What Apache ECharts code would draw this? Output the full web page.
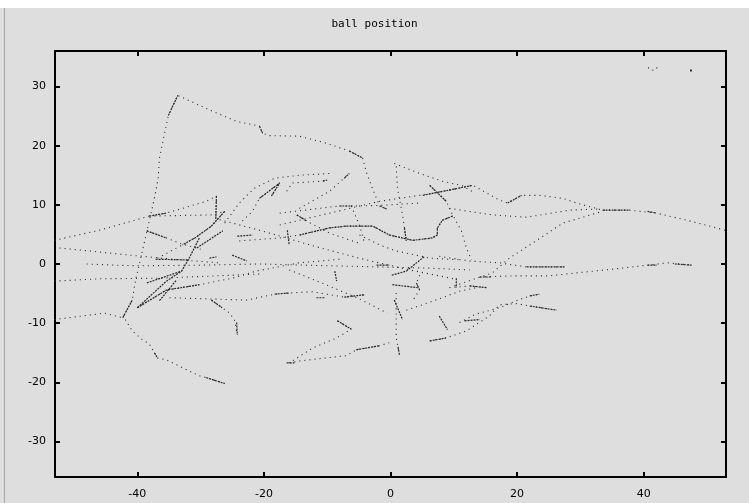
<!DOCTYPE html>
<html>
<head>
<meta charset="utf-8">
<title>ball position</title>
<script src="https://cdn.jsdelivr.net/npm/echarts@6/dist/echarts.min.js"></script>
<style>
    html,body{margin:0;padding:0;background:#dedede;}
    #main{width:749px;height:503px;}
</style>
</head>
<body>
<div id="main"></div>
<script>
// tick labels
var xTicks = [-40,-20,0,20,40];
var yTicks = [-30,-20,-10,0,10,20,30];

// ball tracks (x,y)
var arcTop = [[-40,-1.5],[-39.2,2.2],[-37.4,10.6],[-36.7,14.5],[-36.5,17.9],[-35.1,25.1],[-33.6,28.5],[-32.2,27.8],[-28.1,25.8],[-24.3,24.1],[-20.7,23.3],[-20.2,22.1],[-19.1,21.7],[-14.4,21.6],[-10.1,20.4],[-6.5,19.1],[-4.4,17.9],[-3.8,15.5],[-2.8,12.6],[-1.7,9.8],[-0.6,9.3]];
var leftRise = [[-53.1,4],[-46,5.7],[-38.1,8.1],[-35.4,8.6],[-29.1,10.6],[-27.5,11.5],[-27.6,7.4]];
var leftFlat = [[-38.1,8.1],[-28.1,8.3],[-26.2,8.9]];
var clusterA = [[-26.2,8.9],[-28.3,6.4],[-30.9,4.4],[-32.9,3.2],[-35.2,1.9],[-37.3,0.7]];
var leftLow = [[-53.1,-9.4],[-45.2,-8.3],[-42.3,-9.1],[-40.8,-6.1],[-40.4,-3.5],[-40.1,-1.9]];
var lowArc = [[-41.9,-9.4],[-40.8,-11.3],[-39.2,-12.8],[-38.1,-13.5],[-37.3,-15],[-36.8,-15.9],[-35.4,-16.2],[-32.9,-17.5],[-30.2,-18.9],[-29.1,-19.2],[-26.2,-20.2]];
var hookMid = [[-28.3,-6.1],[-26.6,-7.4],[-25.4,-8.3],[-24.6,-9.6],[-24.3,-9.9],[-24.2,-12]];
var lowRise = [[-40,-7.4],[-35.4,-4.4],[-30.2,-3.5],[-25,-2.4],[-21.2,-1.2],[-14.4,0.2],[-8,0.8]];
var flatMinus5 = [[-34.9,-5.7],[-22.7,-6.1],[-18.3,-5.1],[-16,-4.9],[-12.3,-4.7],[-7.3,-5.6],[-4.1,-5.2]];
var zeroLine = [[-48,0],[-43.3,-0.2],[-39.7,-0.3],[-30.2,-0.2],[-20.7,0],[-9.6,-0.3],[6.2,-0.7],[12.5,-1]];
var leftMid = [[-52.3,2.7],[-47.6,2.2],[-41.2,1.5],[-33.3,0.7],[-27,0.2]];
var leftMinus2 = [[-53.1,-2.9],[-46,-2.5],[-36.5,-2.4],[-20.7,-1.7]];
var diagUp = [[-17.5,6.6],[-9.6,8.6],[-1.7,10.6],[4.6,11.6],[10.9,12.8]];
var topRight = [[0.6,17],[4.6,15.3],[8.2,14],[11.4,13.2],[13.3,12]];
var dropA = [[0.9,16.5],[1.1,12.8],[1.9,8.3],[2.2,6.1],[2.5,3.9]];
var dropB = [[6.2,13.3],[8.8,10.6],[9.8,8.3],[11.2,5.6],[12,2.7],[12.8,0.7]];
var wave = [[-23.9,3.9],[-17.5,4.4],[-14.4,4.9],[-9.6,6.1],[-7,6.4],[-2.8,6.4],[-0.2,4.9],[3.5,4],[6.6,4.4],[7.4,4.9],[7.4,6.1],[8.2,7.4],[9.8,8.1]];
var riseA = [[-16.4,12.3],[-15.5,13.7],[-10.7,14],[-10,14.2]];
var riseB = [[-14.4,9.4],[-9.6,12.3],[-6.5,15.3]];
var flat10 = [[-17.5,8.6],[-8.1,9.8],[-6,9.8],[-1.7,9.9],[4.6,10.3]];
var dropC = [[-6.2,9.8],[-4.9,6.6],[-4.1,3.5]];
var vShape = [[-23.4,7.3],[-21.8,8.9],[-20.7,11.1],[-17.5,13.7],[-18.8,11.5]];
var arcMid = [[-26.2,6.9],[-23.9,10.3],[-21.5,12.8],[-18.3,14.5],[-14.4,15],[-9.6,15.3]];
var clusterC = [[-38.5,5.6],[-35.4,4.4],[-33.3,3.5],[-30,2.5]];
var midSlope = [[-14.8,8.3],[-13.3,7.3],[-9.6,5.2],[-4.9,3.5]];
var midLow = [[-4.9,4.9],[-1.7,3.2],[0.9,2.2],[6.2,1],[10.9,0.7]];
var rightTop = [[9.3,12.5],[13,13.3],[17.2,10.8],[18.5,10.3],[20.7,11.6],[23.5,11.6],[27.2,11.1],[29.4,10.3],[33.5,9.1],[37.8,9.1],[42,8.6],[47.2,7.3],[52.9,5.7]];
var rightUpper = [[9.3,9.4],[16.1,8.3],[21.5,7.9],[28.3,9.1],[33,9.3]];
var rightCurve = [[10.1,-3.7],[16.1,-1.5],[18.8,1],[22.4,3.5],[27.2,6.9],[33.5,8.9]];
var rightZero = [[14.1,-2.2],[19.9,-2],[25.1,-2],[29.4,-1.5],[35.7,-0.8],[40.6,-0.2],[43.8,0.2],[47.7,-0.2]];
var rightHalf = [[7.7,1.3],[12.5,0.5],[17.2,0.2],[21.5,-0.5],[27.5,-0.5]];
var rightM4 = [[9.3,-4],[12.5,-3.7],[15.2,-4]];
var rightM10 = [[10.9,-9.9],[13.4,-8.5],[17.2,-7.4],[19.9,-6.2],[22,-5.4],[23.5,-5.1]];
var rightM7 = [[6.2,-13],[8.8,-12.5],[12,-11.3],[15.6,-8.8],[17.2,-6.9],[19.9,-6.7],[22,-7.1],[26.2,-7.8]];
var centreVert = [[0.9,-4.9],[0.9,-12.5],[1.4,-15.3]];
var lowBack = [[-8.4,-9.6],[-6.2,-11],[-8.5,-12.5],[-12.3,-14.2],[-15.2,-16.2],[-16,-16.7]];
var bottomLine = [[-16,-16.7],[-14.4,-16.4],[-11.2,-16],[-7,-15.5],[-5.4,-14.5],[-1.7,-13.8],[-0.2,-13.3]];
var lowRight = [[2.5,-7.8],[5,-6.9],[8.2,-5.7],[10.9,-4.6],[14,-3.9]];
var crossDown = [[-16,-1],[-10.4,-3.4],[-4.9,-5.9],[-0.5,-8.3]];
var crossCentre = [[-27,7.5],[-20,5.5],[-12,3],[-5,1],[3,-1],[10,-2.5]];
var kinkC = [[4.6,-1.9],[4.1,-3.2],[4.6,-4.4],[3.5,-6.2]];

var dottedTracks = [arcTop,leftRise,leftFlat,clusterA,leftLow,lowArc,hookMid,lowRise,flatMinus5,zeroLine,leftMid,leftMinus2,
    diagUp,topRight,dropA,dropB,wave,riseA,riseB,flat10,dropC,vShape,arcMid,clusterC,midSlope,midLow,
    rightTop,rightUpper,rightCurve,rightZero,rightHalf,rightM4,rightM10,rightM7,centreVert,lowBack,bottomLine,
    lowRight,crossDown,crossCentre,kinkC];

// stretches where the samples lie so close they read as solid strokes
var solidRuns = [
    [[-35.1,25.1],[-33.6,28.5]],
    [[-20.7,23.3],[-20.2,22.1]],
    [[-6.5,19.1],[-4.4,17.9]],
    [[-1.7,9.8],[-0.6,9.3]],
    [[-38.1,8.1],[-35.4,8.6]],
    [[-27.5,11.5],[-27.6,7.4]],
    [[-26.2,8.9],[-28.3,6.4],[-30.9,4.4],[-32.9,3.2]],
    [[-30.2,4.4],[-31.8,1],[-33,-1.2],[-35.4,-2.9],[-40,-7.4]],
    [[-42.3,-9.1],[-40.8,-6.1]],
    [[-37.3,-15],[-36.8,-15.9]],
    [[-29.1,-19.2],[-26.2,-20.2]],
    [[-28.3,-6.1],[-26.6,-7.4]],
    [[-24.3,-9.9],[-24.2,-12]],
    [[-38.5,-3.2],[-33,-1.2]],
    [[-40,-7.4],[-35.4,-4.4],[-30.2,-3.5]],
    [[-36.5,-6.2],[-33.8,-2.7]],
    [[-18.3,-5.1],[-16,-4.9]],
    [[-11.7,-5.7],[-10.4,-5.7]],
    [[-7.3,-5.6],[-4.1,-5.2]],
    [[5.1,11.6],[13,13.3]],
    [[6.2,13.3],[8.8,10.6]],
    [[2.2,6.1],[2.5,3.9]],
    [[-14.4,4.9],[-9.6,6.1],[-7,6.4],[-2.8,6.4],[-0.2,4.9],[3.5,4],[6.6,4.4],[7.4,4.9],[7.4,6.1],[8.2,7.4],[9.8,8.1]],
    [[-10.7,14],[-10,14.2]],
    [[-7.3,14.5],[-6.5,15.3]],
    [[-8.1,9.8],[-6,9.8]],
    [[-20.7,11.1],[-17.5,13.7],[-18.8,11.5]],
    [[-38.5,5.6],[-35.4,4.4]],
    [[-25,1.5],[-22.7,0.5]],
    [[-28.6,1],[-27.5,1.2]],
    [[-16.3,5.7],[-16,3.2]],
    [[-14.8,8.3],[-13.3,7.3]],
    [[18.5,10.3],[20.7,11.6]],
    [[33.5,9.1],[37.8,9.1]],
    [[40.6,8.9],[42,8.6]],
    [[14.1,-2.2],[16,-2.2]],
    [[40.6,-0.2],[42.1,-0.2]],
    [[44.9,0],[47.7,-0.2]],
    [[21.5,-0.5],[27.5,-0.5]],
    [[12.5,-3.7],[15.2,-4]],
    [[10.4,-2.4],[10.4,-4]],
    [[22,-5.4],[23.5,-5.1]],
    [[22,-7.1],[26.2,-7.8]],
    [[6.2,-13],[8.8,-12.5]],
    [[-8.8,-1.2],[-8.5,-2.9]],
    [[0.2,-1.9],[2.5,-1.2],[5.4,1.3]],
    [[4.1,-3.2],[4.6,-4.4]],
    [[0.3,-3.5],[4.3,-4]],
    [[0.6,-6.1],[1.9,-9.4]],
    [[7.7,-8.8],[9,-11.1]],
    [[1.2,-14],[1.4,-15.3]],
    [[-5.4,-14.5],[-1.7,-13.8]],
    [[-8.4,-9.6],[-6.2,-11]],
    [[-16.4,-16.7],[-15.2,-16.7]],
    [[-2.2,-0.2],[-0.2,-0.2]],
    [[11.7,-9.6],[14.1,-9.4]],
    [[-37.1,0.8],[-31.8,0.7]],
    [[-30.6,2.7],[-26.5,5.6]],
    [[-24.2,4.7],[-21.8,4.9]]
];

var seriesName = "'-'";

function buildSeries() {
    var list = [];
    for(var i=0;i<dottedTracks.length;i++){
        list.push({
            name: seriesName,
            type: 'line',
            data: dottedTracks[i],
            symbol: 'none',
            silent: true,
            color: '#333',
            lineStyle: {width: 1.1, color: '#333', type: [1.1, 4]}
        });
    }
    for(var j=0;j<solidRuns.length;j++){
        list.push({
            name: seriesName,
            type: 'line',
            data: solidRuns[j],
            symbol: 'none',
            silent: true,
            color: '#333',
            lineStyle: {width: 1.2, color: '#2a2a2a', type: [2, 1]}
        });
    }
    return list;
}

var frame = {show: true, onZero: false, lineStyle: {color: '#000', width: 2}};
var labelFont = {color: '#000', fontSize: 11, fontFamily: 'DejaVu Sans'};

var myChart = echarts.init(document.getElementById('main'), null, {renderer: 'canvas'});
var option = {
    backgroundColor: '#dedede',
    animation: false,
    title: {
        text: 'ball position',
        left: 'center',
        top: 14,
        textStyle: {color: '#000', fontSize: 11, fontWeight: 'normal', fontFamily: 'DejaVu Sans Mono'}
    },
    legend: {
        data: [{name: seriesName, icon: 'rect'}],
        right: 52,
        top: 62,
        align: 'right',
        itemWidth: 2,
        itemHeight: 2,
        selectedMode: false,
        textStyle: {color: '#000', fontSize: 7, fontFamily: 'DejaVu Sans Mono', padding: [0, 26, 0, 0]}
    },
    grid: {left: 55, right: 23, top: 51, bottom: 26},
    xAxis: [{
        type: 'value', min: -53, max: 53, position: 'bottom',
        axisLine: frame,
        axisTick: {inside: true, length: 5, customValues: xTicks, lineStyle: {color: '#000', width: 2}},
        axisLabel: Object.assign({customValues: xTicks, margin: 12}, labelFont),
        splitLine: {show: false}
    },{
        type: 'value', min: -53, max: 53, position: 'top',
        axisLine: frame,
        axisTick: {inside: true, length: 5, customValues: xTicks, lineStyle: {color: '#000', width: 2}},
        axisLabel: {show: false},
        splitLine: {show: false}
    }],
    yAxis: [{
        type: 'value', min: -36, max: 36, position: 'left',
        axisLine: frame,
        axisTick: {inside: true, length: 5, customValues: yTicks, lineStyle: {color: '#000', width: 2}},
        axisLabel: Object.assign({customValues: yTicks, margin: 9}, labelFont),
        splitLine: {show: false}
    },{
        type: 'value', min: -36, max: 36, position: 'right',
        axisLine: frame,
        axisTick: {inside: true, length: 5, customValues: yTicks, lineStyle: {color: '#000', width: 2}},
        axisLabel: {show: false},
        splitLine: {show: false}
    }],
    graphic: [
        {type: 'rect', left: 0, top: 0, shape: {width: 749, height: 8}, style: {fill: '#ffffff'}, silent: true},
        {type: 'rect', left: 4, top: 8, shape: {width: 1, height: 495}, style: {fill: '#a8a8a8'}, silent: true}
    ],
    series: buildSeries()
};
myChart.setOption(option);
</script>
</body>
</html>
